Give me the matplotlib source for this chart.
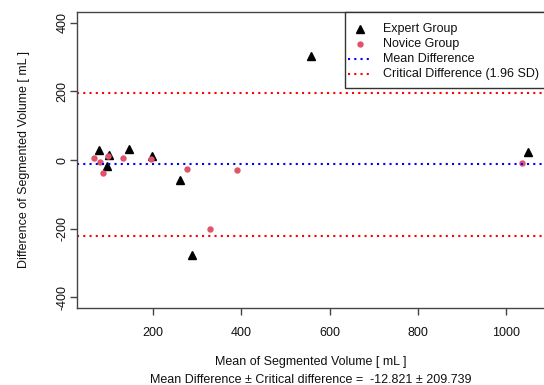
import matplotlib
matplotlib.use("Agg")
import matplotlib.pyplot as plt
from matplotlib.patches import Rectangle

plt.rcParams['font.family'] = ['Liberation Sans', 'DejaVu Sans']

# Data
expert_mean = [77.7, 99.7, 95.0, 145.6, 197.7, 260.5, 289.0, 557.0, 1048.7]
expert_diff = [30.0, 15.4, -16.6, 32.9, 11.6, -59.4, -277.8, 304.7, 24.0]
novice_mean = [66.4, 79.3, 86.0, 97.4, 133.0, 194.8, 278.0, 328.4, 389.6, 1035.0]
novice_diff = [4.7, -7.0, -37.0, 11.6, 6.7, 2.9, -25.3, -200.0, -30.3, -7.9]
mean_difference = -12.821
critical_difference = 209.739
x_ticks = [200, 400, 600, 800, 1000]
y_ticks = [-400, -200, 0, 200, 400]
legend_labels = ["Expert Group", "Novice Group", "Mean Difference", "Critical Difference (1.96 SD)"]

red_pt = "#DF536B"
tri_ms = 5.6
dot_ms = 4.6

fig = plt.figure(figsize=(5.44, 3.85), dpi=100)
ax = fig.add_axes([76.7 / 544, (385 - 308) / 385, (545.2 - 76.7) / 544, (308 - 12) / 385])

ax.plot(expert_mean, expert_diff, linestyle='none', marker='^', color='black', markersize=tri_ms)
ax.plot(novice_mean, novice_diff, linestyle='none', marker='o', color=red_pt, markersize=dot_ms,
        markeredgewidth=0)

ls = (0, (1, 2))
ax.axhline(mean_difference, color='blue', linestyle=ls, lw=1.5)
ax.axhline(mean_difference + critical_difference, color='red', linestyle=ls, lw=1.5)
ax.axhline(mean_difference - critical_difference, color='red', linestyle=ls, lw=1.5)

all_x = expert_mean + novice_mean
xr = max(all_x) - min(all_x)
ax.set_xlim(min(all_x) - 0.04 * xr, max(all_x) + 0.04 * xr)
ax.set_ylim(-432, 432)
ax.set_xticks(x_ticks)
ax.set_yticks(y_ticks)
ax.set_xticklabels([str(t) for t in x_ticks])
ax.set_yticklabels([str(t) for t in y_ticks], rotation=90, va='center')

for s in ax.spines.values():
    s.set_color('#444444')
    s.set_linewidth(1.0)
ax.tick_params(axis='both', direction='out', length=5, width=1.0, color='#444444',
               labelsize=9, labelcolor='#111111')
ax.tick_params(axis='x', pad=9)
ax.tick_params(axis='y', pad=1)

ax.set_xlabel("Mean of Segmented Volume [ mL ]\nMean Difference \u00b1 Critical difference =  -12.821 \u00b1 209.739",
              fontsize=9, linespacing=1.6, labelpad=12, color='#111111')
ax.set_ylabel("Difference of Segmented Volume [ mL ]", fontsize=9, labelpad=19, color='#111111')

# Legend (R-style, top right inside the axes)
x0 = (344.7 - 76.7) / 468.5
ybot = (308 - 88) / 296
ax.add_patch(Rectangle((x0, ybot), 1.2 - x0, 1 - ybot, transform=ax.transAxes,
                       facecolor='white', edgecolor='#333333', lw=1.0, clip_on=False, zorder=5))
rows = [(308 - y) / 296 for y in (28.7, 43.7, 58.7, 73.7)]
hx = (360 - 76.7) / 468.5
l0 = (348 - 76.7) / 468.5
l1 = (371 - 76.7) / 468.5
tx = (383.3 - 76.7) / 468.5
ax.plot([hx], [rows[0]], marker='^', color='black', markersize=tri_ms, linestyle='none',
        transform=ax.transAxes, clip_on=False, zorder=6)
ax.plot([hx], [rows[1]], marker='o', color=red_pt, markersize=dot_ms, markeredgewidth=0,
        linestyle='none', transform=ax.transAxes, clip_on=False, zorder=6)
ax.plot([l0, l1], [rows[2], rows[2]], color='blue', linestyle=ls, lw=1.5,
        transform=ax.transAxes, clip_on=False, zorder=6)
ax.plot([l0, l1], [rows[3], rows[3]], color='red', linestyle=ls, lw=1.5,
        transform=ax.transAxes, clip_on=False, zorder=6)
for r, lab in zip(rows, legend_labels):
    ax.text(tx, r, lab, transform=ax.transAxes, fontsize=9, va='center', ha='left',
            color='#111111', zorder=6)

fig.savefig("out.png", dpi=100)
